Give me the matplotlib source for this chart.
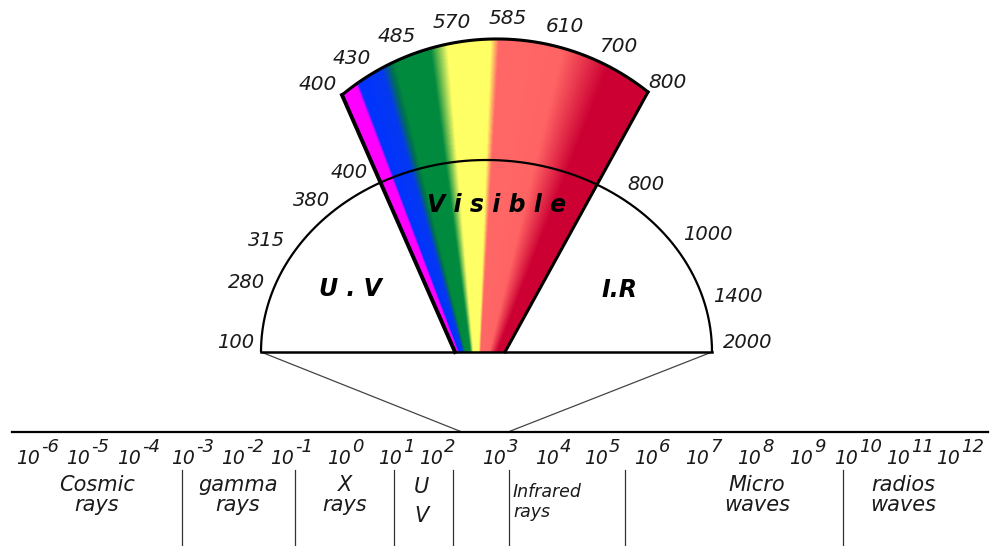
import numpy as np
import matplotlib
matplotlib.use('Agg')
import matplotlib.pyplot as plt
from matplotlib.patches import Polygon
from matplotlib.colors import LinearSegmentedColormap

# ---------------- data ----------------
exponents = [-6, -5, -4, -3, -2, -1, 0, 1, 2, 3, 4, 5, 6, 7, 8, 9, 10, 11, 12]
band_names = ["Cosmic\nrays", "gamma\nrays", "X\nrays", "U\nV",
              "Infrared\nrays", "Micro\nwaves", "radios\nwaves"]
visible_labels = ["400", "430", "485", "570", "585", "610", "700", "800"]
uv_labels = ["400", "380", "315", "280", "100"]
ir_labels = ["800", "1000", "1400", "2000"]
# colour stops across the visible fan (fraction from left edge, colour)
spectrum_stops = [(0.00, "#ff00ff"), (0.058, "#ff00ff"), (0.068, "#0033ff"),
                  (0.155, "#0538f0"), (0.185, "#00704f"), (0.20, "#008a3e"),
                  (0.31, "#008a3e"), (0.36, "#ffff66"), (0.482, "#ffff66"),
                  (0.505, "#ff6868"), (0.69, "#ff6464"), (0.84, "#cc0033"),
                  (1.00, "#cc0033")]

# ---------------- layout (pixel space) ----------------
exp_split_x = [40, 90, 141, 195, 245, 294, 351, 402, 443, 506, 559, 608,
               658, 709, 761, 813, 858, 910, 960]
band_x = [97, 238, 345, 421, 513, 757, 903]
divider_x = [182, 295, 394, 453, 509, 625, 843]
vis_pos = [(318, 85), (352, 58), (397, 37), (452, 23), (508, 18), (565, 27),
           (618, 47), (667, 82)]
uv_pos = [(368, 173), (330, 201), (285, 240), (265, 283), (254, 342)]
ir_pos = [(627, 185), (683, 234), (713, 297), (723, 342)]

W, H = 992, 546
fig = plt.figure(figsize=(W / 100, H / 100), dpi=100)
ax = fig.add_axes([0, 0, 1, 1])
ax.set_xlim(0, W)
ax.set_ylim(H, 0)
ax.axis('off')

FONT = 'DejaVu Sans'
TXT = '#1a1a1a'

# semi-ellipse
cx, cy, ea, eb = 486.5, 352, 225.5, 192
t = np.linspace(0, np.pi, 400)
ax.plot(cx + ea * np.cos(t), cy - eb * np.sin(t), color='black', lw=1.6, zorder=5,
        solid_capstyle='butt')
ax.plot([cx - ea, cx + ea], [cy, cy], color='black', lw=1.8, zorder=5)

# fan geometry
TL, TM, TR = np.array([342., 95.]), np.array([492., 39.]), np.array([648., 92.])
BL, BR = np.array([455., 352.]), np.array([505., 352.])


def circle3(p1, p2, p3):
    ax_, ay_ = p1
    bx_, by_ = p2
    cx_, cy_ = p3
    d = 2 * (ax_ * (by_ - cy_) + bx_ * (cy_ - ay_) + cx_ * (ay_ - by_))
    ux = ((ax_**2 + ay_**2) * (by_ - cy_) + (bx_**2 + by_**2) * (cy_ - ay_)
          + (cx_**2 + cy_**2) * (ay_ - by_)) / d
    uy = ((ax_**2 + ay_**2) * (cx_ - bx_) + (bx_**2 + by_**2) * (ax_ - cx_)
          + (cx_**2 + cy_**2) * (bx_ - ax_)) / d
    return np.array([ux, uy]), np.hypot(ax_ - ux, ay_ - uy)


cen, rad = circle3(TL, TM, TR)
a1 = np.arctan2(TL[1] - cen[1], TL[0] - cen[0])
a2 = np.arctan2(TR[1] - cen[1], TR[0] - cen[0])
aa = np.linspace(a1, a2, 200)
arc = np.column_stack([cen[0] + rad * np.cos(aa), cen[1] + rad * np.sin(aa)])
fan_pts = np.vstack([BL, arc, BR])
fan = Polygon(fan_pts, closed=True, facecolor='none', edgecolor='none')
ax.add_patch(fan)

# gradient image
xs = np.arange(320, 670, 1.0)
ys = np.arange(25, 360, 1.0)
X, Y = np.meshgrid(xs, ys)
xl = TL[0] + (BL[0] - TL[0]) * (Y - TL[1]) / (BL[1] - TL[1])
xr = TR[0] + (BR[0] - TR[0]) * (Y - TR[1]) / (BR[1] - TR[1])
F = np.clip((X - xl) / (xr - xl), 0, 1)
cmap = LinearSegmentedColormap.from_list('spec', spectrum_stops, N=512)
im = ax.imshow(F, cmap=cmap, vmin=0, vmax=1, extent=[xs[0], xs[-1], ys[-1], ys[0]],
               origin='upper', interpolation='bilinear', zorder=3, aspect='auto')
im.set_clip_path(fan)
ax.set_xlim(0, W)
ax.set_ylim(H, 0)

# fan outline
ax.plot(arc[:, 0], arc[:, 1], color='black', lw=2.2, zorder=6)
ax.plot([TL[0], BL[0]], [TL[1], BL[1]], color='black', lw=2.8, zorder=6)
ax.plot([TR[0], BR[0]], [TR[1], BR[1]], color='black', lw=2.2, zorder=6)

# connecting lines
ax.plot([cx - ea, 462], [cy, 432], color='#444444', lw=0.9, zorder=4)
ax.plot([cx + ea, 508], [cy, 432], color='#444444', lw=0.9, zorder=4)

# main axis line
ax.plot([12, 988], [432, 432], color='black', lw=1.6, zorder=5)

# tick labels 10^n
for e, sx in zip(exponents, exp_split_x):
    ax.text(sx, 464, "10", ha='right', va='baseline', fontsize=13.5,
            style='italic', family=FONT, color=TXT)
    ax.text(sx + 1, 452, str(e), ha='left', va='baseline', fontsize=13,
            style='italic', family=FONT, color=TXT)

# dividers
for dx in divider_x:
    ax.plot([dx, dx], [470, H], color='#333333', lw=0.9)

# band names
for name, bx in zip(band_names, band_x):
    l1, l2 = name.split("\n")
    if name.startswith("Infrared"):
        ax.text(bx, 497, l1, ha='left', va='baseline', fontsize=12.5,
                style='italic', family=FONT, color=TXT)
        ax.text(bx, 517, l2, ha='left', va='baseline', fontsize=12.5,
                style='italic', family=FONT, color=TXT)
    elif name == "U\nV":
        ax.text(bx, 493, l1, ha='center', va='baseline', fontsize=15,
                style='italic', family=FONT, color=TXT)
        ax.text(bx, 522, l2, ha='center', va='baseline', fontsize=15,
                style='italic', family=FONT, color=TXT)
    else:
        ax.text(bx, 491, l1, ha='center', va='baseline', fontsize=15,
                style='italic', family=FONT, color=TXT)
        ax.text(bx, 511, l2, ha='center', va='baseline', fontsize=15,
                style='italic', family=FONT, color=TXT)

# wavelength labels
for lab, (px, py) in zip(visible_labels, vis_pos):
    ax.text(px, py, lab, ha='center', va='center', fontsize=14.5,
            style='italic', family=FONT, color=TXT)
for lab, (px, py) in zip(uv_labels, uv_pos):
    ax.text(px, py, lab, ha='right', va='center', fontsize=14,
            style='italic', family=FONT, color=TXT)
for lab, (px, py) in zip(ir_labels, ir_pos):
    ax.text(px, py, lab, ha='left', va='center', fontsize=14,
            style='italic', family=FONT, color=TXT)

# region titles
ax.text(497, 205, "V i s i b l e", ha='center', va='center', fontsize=17,
        style='italic', weight='bold', family=FONT, color='black', zorder=7)
ax.text(350, 289, "U . V", ha='center', va='center', fontsize=17,
        style='italic', weight='bold', family=FONT, color='black')
ax.text(620, 290, "I.R", ha='center', va='center', fontsize=17,
        style='italic', weight='bold', family=FONT, color='black')

fig.savefig('out.png', dpi=100)
